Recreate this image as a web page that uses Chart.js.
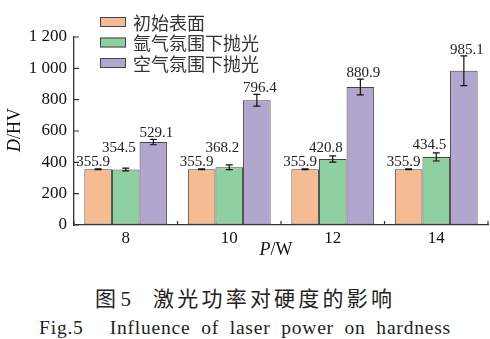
<!DOCTYPE html>
<html>
<head>
<meta charset="utf-8">
<script src="https://cdn.jsdelivr.net/npm/chart.js@4"></script>
<style>
  body { margin: 0; background: #fff; }
  #wrap { position: relative; width: 490px; height: 339px; }
  #grafico { position: absolute; left: 0; top: 0; }
  .cap { position: absolute; left: 0; width: 490px; text-align: center; color: #222; white-space: pre; }
  #cap1 { top: 285px; line-height: 24px; font-size: 21px; font-family: "Noto Sans CJK SC"; }
  #cap1 .num { font-family: "Liberation Serif"; }
  #cap1 .t { margin-left: 22px; letter-spacing: 3.2px; }
  #cap2 { top: 317px; line-height: 22px; font-size: 19.5px; font-family: "Liberation Serif"; letter-spacing: 0.8px; word-spacing: 5px; }
  #cap2 .t { margin-left: 26px; }
</style>
</head>
<body>
<div id="wrap">
  <canvas id="grafico" width="490" height="270"></canvas>
  <div class="cap" id="cap1">图 <span class="num">5</span><span class="t">激光功率对硬度的影响</span></div>
  <div class="cap" id="cap2">Fig.5<span class="t">Influence of laser power on hardness</span></div>
</div>
<script>
const categories = ['8', '10', '12', '14']
const seriesNames = ['初始表面', '氩气氛围下抛光', '空气氛围下抛光']
const initialHV = [355.9, 355.9, 355.9, 355.9]
const argonHV = [354.5, 368.2, 420.8, 434.5]
const airHV = [529.1, 796.4, 880.9, 985.1]
const initialErr = [3, 3, 3, 3]
const argonErr = [9, 15, 20, 26]
const airErr = [17, 37, 50, 95]
const yTickLabels = ['0', '200', '400', '600', '800', '1 000', '1 200']

const colors = ['#f5bc93', '#8fd0a0', '#b1a6cd']
const values = [initialHV, argonHV, airHV]
const errors = [initialErr, argonErr, airErr]
const serif = 'Liberation Serif'

// error bars, value labels, inward ticks, legend and axis titles
const extras = {
  id: 'extras',
  afterDatasetsDraw(chart) {
    const ctx = chart.ctx
    const y = chart.scales.y
    const area = chart.chartArea
    ctx.save()

    // error bars
    ctx.strokeStyle = '#111'
    ctx.lineWidth = 1.2
    values.forEach((vals, d) => {
      chart.getDatasetMeta(d).data.forEach((bar, i) => {
        const top = y.getPixelForValue(vals[i] + errors[d][i])
        const bot = y.getPixelForValue(vals[i] - errors[d][i])
        ctx.beginPath()
        ctx.moveTo(bar.x, top); ctx.lineTo(bar.x, bot)
        ctx.moveTo(bar.x - 3.5, top); ctx.lineTo(bar.x + 3.5, top)
        ctx.moveTo(bar.x - 3.5, bot); ctx.lineTo(bar.x + 3.5, bot)
        ctx.stroke()
      })
    })

    // value labels
    ctx.fillStyle = '#222'
    ctx.font = '15px "' + serif + '"'
    ctx.textAlign = 'center'
    ctx.textBaseline = 'alphabetic'
    categories.forEach((c, i) => {
      const bars = values.map((v, d) => chart.getDatasetMeta(d).data[i])
      const errTop = values.map((v, d) => y.getPixelForValue(v[i] + errors[d][i]))
      const b0 = errTop[0] - 3
      ctx.fillText(initialHV[i].toFixed(1), bars[0].x - 5, b0)
      ctx.fillText(argonHV[i].toFixed(1), bars[1].x - 7, Math.min(errTop[1] - 4, b0 - 14))
      ctx.fillText(airHV[i].toFixed(1), bars[2].x + 3, errTop[2] - 2)
    })

    // inward ticks
    ctx.strokeStyle = '#333'
    ctx.lineWidth = 1.2
    ctx.beginPath()
    y.ticks.forEach(t => {
      const py = y.getPixelForValue(t.value)
      ctx.moveTo(area.left, py); ctx.lineTo(area.left + 5, py)
    })
    for (let i = 0; i <= categories.length; i++) {
      const px = area.left + (area.right - area.left) * i / categories.length
      ctx.moveTo(px, area.bottom); ctx.lineTo(px, area.bottom - 4)
    }
    ctx.stroke()

    // legend
    ctx.font = '18px "Noto Sans CJK SC"'
    ctx.textAlign = 'left'
    ctx.textBaseline = 'middle'
    seriesNames.forEach((name, d) => {
      const cy = 22 + d * 20.5
      ctx.fillStyle = colors[d]
      ctx.fillRect(100, cy - 5, 26, 10)
      ctx.strokeStyle = '#444'
      ctx.lineWidth = 1
      ctx.strokeRect(100.5, cy - 4.5, 25, 9)
      ctx.fillStyle = '#333'
      ctx.fillText(name, 133, cy + 1)
    })

    // axis titles with italic symbols
    const title = (sym, rest, cx, cy, rot) => {
      ctx.save()
      ctx.translate(cx, cy)
      ctx.rotate(rot)
      ctx.textBaseline = 'middle'
      ctx.textAlign = 'left'
      ctx.fillStyle = '#111'
      ctx.font = 'italic 18px "' + serif + '"'
      const w1 = ctx.measureText(sym).width
      ctx.font = '18px "' + serif + '"'
      const w2 = ctx.measureText(rest).width
      const sx = -(w1 + w2) / 2
      ctx.font = 'italic 18px "' + serif + '"'
      ctx.fillText(sym, sx, 0)
      ctx.font = '18px "' + serif + '"'
      ctx.fillText(rest, sx + w1, 0)
      ctx.restore()
    }
    title('D', '/HV', 15, 130, -Math.PI / 2)
    title('P', '/W', 276, 250, 0)

    ctx.restore()
  }
}

const ctx = document.getElementById('grafico')

new Chart(ctx, {
  type: 'bar',
  data: {
    labels: categories,
    datasets: seriesNames.map((name, d) => ({
      label: name,
      data: values[d],
      backgroundColor: colors[d],
      borderColor: '#454545',
      borderWidth: 1,
      borderSkipped: false,
      categoryPercentage: 0.8,
      barPercentage: 1.0
    }))
  },
  options: {
    responsive: false,
    animation: false,
    layout: { padding: { left: 0, top: 37, right: 2, bottom: 20 } },
    plugins: {
      legend: { display: false },
      tooltip: { enabled: false }
    },
    scales: {
      x: {
        grid: { drawOnChartArea: false, drawTicks: false },
        border: { color: '#333', width: 1.3 },
        ticks: { color: '#111', font: { family: serif, size: 17 }, padding: 3 },
        afterFit: (s) => { s.height = 25 }
      },
      y: {
        min: 0,
        max: 1200,
        grid: { drawOnChartArea: false, drawTicks: false },
        border: { color: '#333', width: 1.3 },
        ticks: {
          stepSize: 200,
          color: '#111',
          font: { family: serif, size: 17 },
          padding: 7,
          callback: (v, i) => yTickLabels[i]
        },
        afterFit: (s) => { s.width = 74 }
      }
    }
  },
  plugins: [extras]
})
</script>
</body>
</html>
